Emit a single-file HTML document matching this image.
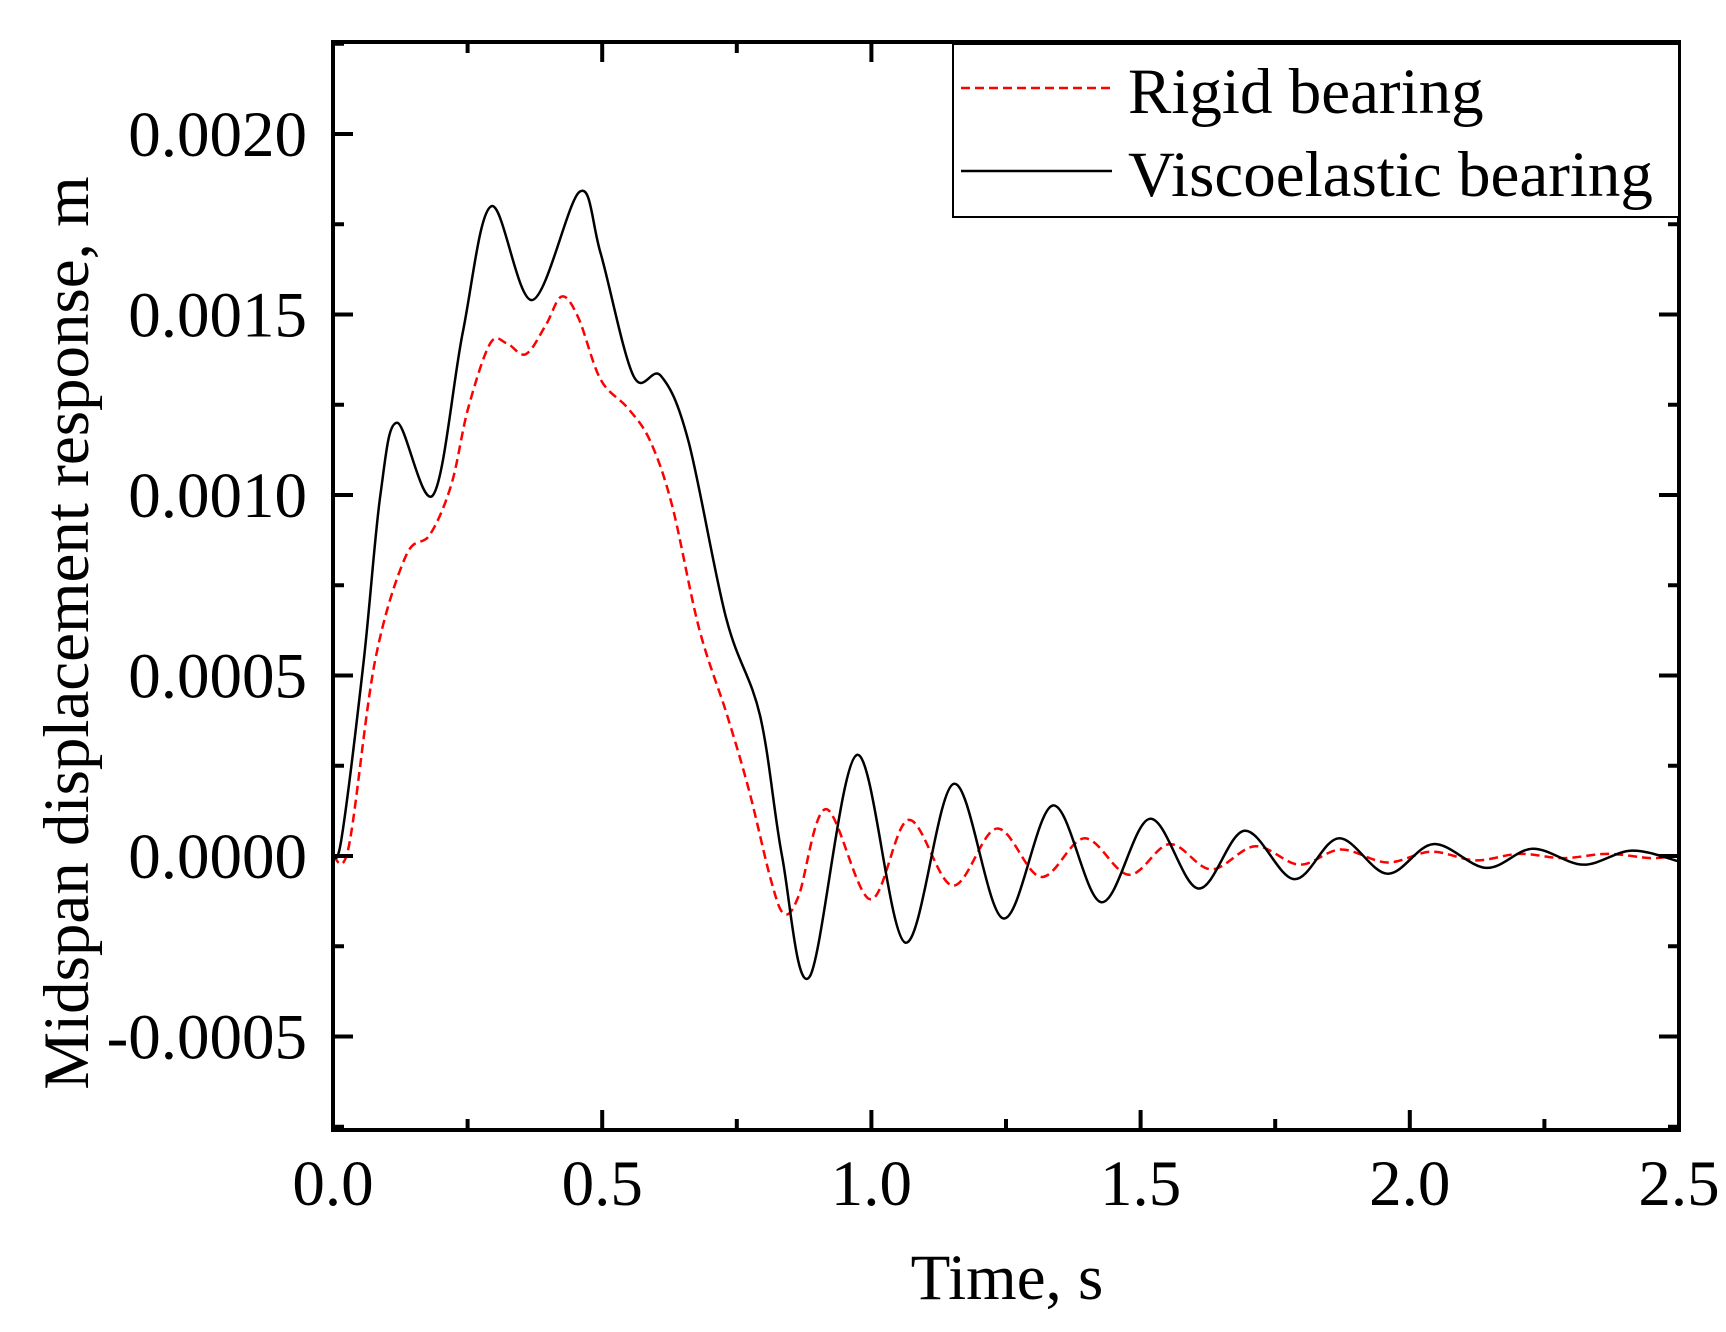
<!DOCTYPE html>
<html><head><meta charset="utf-8"><style>
html,body{margin:0;padding:0;background:#fff;}
svg{display:block;font-family:"Liberation Serif",serif;}
</style></head><body>
<svg id="chart" width="1726" height="1332" viewBox="0 0 1726 1332"></svg>
<script>
const tRigid=[0,0.029,0.078,0.135,0.18,0.22,0.251,0.292,0.323,0.358,0.395,0.425,0.456,0.497,0.548,0.589,0.63,0.68,0.732,0.773,0.814,0.838,0.865,0.916,0.998,1.069,1.151,1.233,1.315,1.396,1.478,1.554,1.631,1.713,1.795,1.872,1.958,2.04,2.122,2.204,2.285,2.367,2.45,2.5];
const vRigid=[0,0.000024,0.00054,0.00083,0.00089,0.00103,0.00124,0.00142,0.00142,0.00139,0.00147,0.00155,0.00149,0.00132,0.00124,0.00115,0.00097,0.00063,0.00039,0.00018,-0.00007,-0.00016,-0.00011,0.00013,-0.00012,0.0001,-0.000082,0.000076,-0.000058,0.000049,-0.000052,0.000033,-0.000037,0.000027,-0.000024,0.000018,-0.000018,0.000012,-0.000012,0.000006,-0.000006,0.000006,-0.000006,0.000003];
const tVisco=[0,0.016,0.057,0.088,0.119,0.186,0.241,0.294,0.37,0.458,0.497,0.558,0.609,0.66,0.73,0.793,0.834,0.885,0.973,1.063,1.153,1.245,1.337,1.427,1.517,1.607,1.693,1.785,1.868,1.958,2.044,2.142,2.228,2.322,2.412,2.5];
const vVisco=[0,0.00005,0.00054,0.001,0.0012,0.001,0.00145,0.0018,0.00154,0.00184,0.00167,0.00133,0.00133,0.00115,0.00066,0.00039,0,-0.000335,0.00028,-0.00024,0.0002,-0.000173,0.00014,-0.000128,0.000103,-0.00009,0.00007,-0.000064,0.000049,-0.000049,0.000033,-0.000033,0.00002,-0.000024,0.000015,-0.000015];
const xTicks=[0,0.5,1.0,1.5,2.0,2.5];
const xTickLabels=["0.0","0.5","1.0","1.5","2.0","2.5"];
const yTicks=[-0.0005,0,0.0005,0.001,0.0015,0.002];
const yTickLabels=["-0.0005","0.0000","0.0005","0.0010","0.0015","0.0020"];

const L=333,R=1679,T=42,B=1130;
const X=t=>L+t*(R-L)/2.5;
const Y=v=>856-v*(180.5/0.0005);
const NS="http://www.w3.org/2000/svg";
const svg=document.getElementById('chart');
function mk(tag,attrs,parent){const e=document.createElementNS(NS,tag);for(const k in attrs)e.setAttribute(k,attrs[k]);(parent||svg).appendChild(e);return e;}

function pathD(ts,vs){
  const p=ts.map((t,i)=>[X(t),Y(vs[i])]);
  let d=`M${p[0][0]},${p[0][1]}`;
  for(let i=0;i<p.length-1;i++){
    const p0=p[Math.max(0,i-1)],p1=p[i],p2=p[i+1],p3=p[Math.min(p.length-1,i+2)];
    const c1=[p1[0]+(p2[0]-p0[0])/6,p1[1]+(p2[1]-p0[1])/6];
    const c2=[p2[0]-(p3[0]-p1[0])/6,p2[1]-(p3[1]-p1[1])/6];
    d+=` C${c1[0]},${c1[1]} ${c2[0]},${c2[1]} ${p2[0]},${p2[1]}`;
  }
  return d;
}
const clip=mk('clipPath',{id:'pc'});mk('rect',{x:L,y:T,width:R-L,height:B-T},clip);
let e;
e=mk('path',{d:pathD(tRigid,vRigid),fill:'none',stroke:'#ff0000','stroke-width':2.5,'stroke-dasharray':'9,5','clip-path':'url(#pc)'});


e=mk('path',{d:pathD(tVisco,vVisco),fill:'none',stroke:'#000','stroke-width':2.5,'clip-path':'url(#pc)'});



// ticks
xTicks.forEach((t,i)=>{
  const x=X(t);
  mk('line',{x1:x,y1:B,x2:x,y2:B-20,stroke:'#000','stroke-width':4});
  mk('line',{x1:x,y1:T,x2:x,y2:T+20,stroke:'#000','stroke-width':4});
  if(i<xTicks.length-1){const xm=X(t+0.25);
    mk('line',{x1:xm,y1:B,x2:xm,y2:B-11,stroke:'#000','stroke-width':4});
    mk('line',{x1:xm,y1:T,x2:xm,y2:T+11,stroke:'#000','stroke-width':4});}
  const tx=mk('text',{x:x,y:1205,'font-size':65,'text-anchor':'middle'});tx.textContent=xTickLabels[i];
  
  
});
yTicks.forEach((v,i)=>{
  const y=Y(v);
  mk('line',{x1:L,y1:y,x2:L+20,y2:y,stroke:'#000','stroke-width':4});
  mk('line',{x1:R,y1:y,x2:R-20,y2:y,stroke:'#000','stroke-width':4});
  const ym=Y(v+0.00025);
  if(ym>T){mk('line',{x1:L,y1:ym,x2:L+11,y2:ym,stroke:'#000','stroke-width':4});
    mk('line',{x1:R,y1:ym,x2:R-11,y2:ym,stroke:'#000','stroke-width':4});}
  const tx=mk('text',{x:307,y:y+22,'font-size':65,'text-anchor':'end'});tx.textContent=yTickLabels[i];
  
  
});
{const ym=Y(-0.00075);if(ym<B){mk('line',{x1:L,y1:ym,x2:L+11,y2:ym,stroke:'#000','stroke-width':4});mk('line',{x1:R,y1:ym,x2:R-11,y2:ym,stroke:'#000','stroke-width':4});}}
e=mk('rect',{x:L,y:T,width:R-L,height:B-T,fill:'none',stroke:'#000','stroke-width':4});


</script>
<svg style="position:absolute;left:0;top:0" width="1726" height="1332">
<text x="1007" y="1299" font-size="65" text-anchor="middle" font-family="Liberation Serif, serif">Time, s</text>
<text transform="translate(88,633) rotate(-90)" font-size="65" text-anchor="middle" font-family="Liberation Serif, serif">Midspan displacement response, m</text>
<g>
<rect x="953" y="44" width="726" height="173" fill="#fff" stroke="#000" stroke-width="2"/>
<line x1="961" y1="88" x2="1112" y2="88" stroke="#ff0000" stroke-width="2.5" stroke-dasharray="9,5"/>
<text x="1128" y="113" font-size="65" font-family="Liberation Serif, serif">Rigid bearing</text>
<line x1="961" y1="171" x2="1112" y2="171" stroke="#000" stroke-width="2.5"/>
<text x="1128" y="196" font-size="65" font-family="Liberation Serif, serif">Viscoelastic bearing</text>
</g>
</svg>
</body></html>
